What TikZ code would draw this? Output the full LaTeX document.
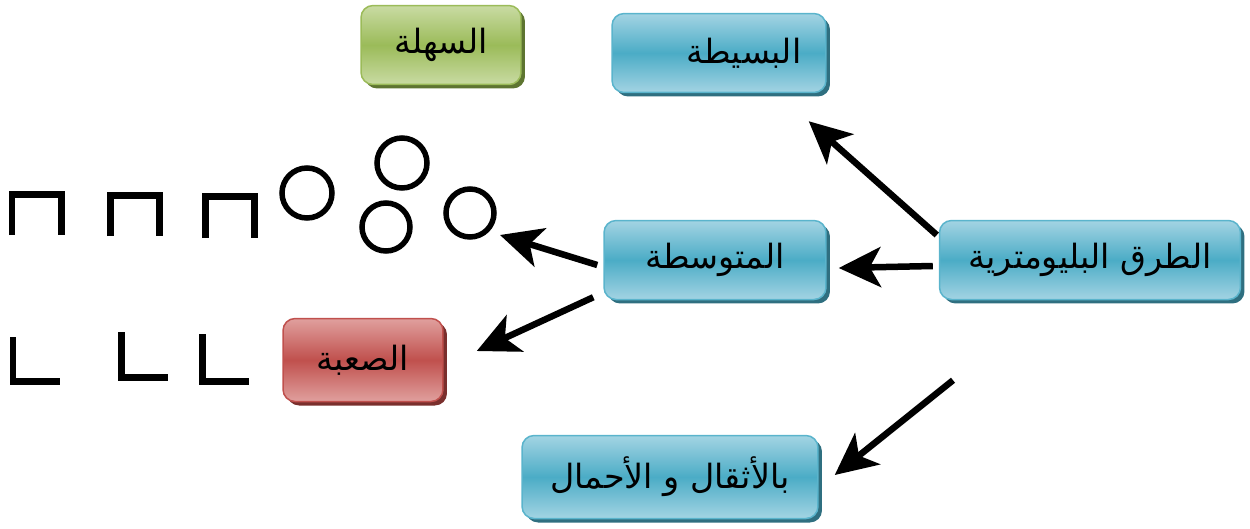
\documentclass[tikz,border=0pt]{standalone}
\usepackage{fontspec}
\usepackage{tikz}
\usetikzlibrary{shadows}
\usetikzlibrary{calc, arrows.meta}
\newfontfamily\arabicfont[Script=Arabic]{DejaVu Sans}
\TeXXeTstate=1
\newcommand{\px}{0.02cm}
\newcommand{\arText}[1]{\arabicfont\beginR #1\endR}
\definecolor{blueLight}{HTML}{A3D4E3}
\definecolor{blueMid}{HTML}{4BACC6}
\definecolor{blueEdge}{HTML}{5AB4CC}
\definecolor{blueShadow}{HTML}{2F6F80}
\definecolor{greenLight}{HTML}{C9DBA3}
\definecolor{greenMid}{HTML}{9BBB59}
\definecolor{greenEdge}{HTML}{9BBB59}
\definecolor{greenShadow}{HTML}{5E7531}
\definecolor{redLight}{HTML}{E0A09E}
\definecolor{redMid}{HTML}{C0504D}
\definecolor{redEdge}{HTML}{C0504D}
\definecolor{redShadow}{HTML}{7A2F2D}

\begin{document}
\begin{tikzpicture}[x=\px,y=-\px,
  box/.style={rounded corners=0.24cm,minimum height=1.58cm,inner sep=0pt,line width=0.03cm,
    font=\fontsize{19}{22}\selectfont},
  blueBox/.style={box,draw=blueEdge,top color=blueLight,bottom color=blueLight,middle color=blueMid,
    drop shadow={shadow xshift=0.08cm,shadow yshift=-0.08cm,fill=blueShadow,opacity=1}},
  greenBox/.style={box,draw=greenEdge,top color=greenLight,bottom color=greenLight,middle color=greenMid,
    drop shadow={shadow xshift=0.08cm,shadow yshift=-0.08cm,fill=greenShadow,opacity=1}},
  redBox/.style={box,draw=redEdge,top color=redLight,bottom color=redLight,middle color=redMid,
    drop shadow={shadow xshift=0.08cm,shadow yshift=-0.08cm,fill=redShadow,opacity=1}},
  arr/.style={line width=0.13cm,-{Stealth[length=0.84cm,width=0.8cm,inset=0.22cm]}},
  glyph/.style={line width=0.14cm},
  ring/.style={line width=0.11cm}]
\useasboundingbox (0,0) rectangle (1250,528);
\node[greenBox,minimum width=3.2cm] (easy) at (441,45) {\arText{السهلة}};
\node[blueBox,minimum width=4.28cm] (simple) at (719,53) {\hspace*{1cm}\arText{البسيطة}};
\node[blueBox,minimum width=4.44cm] (medium) at (715,260) {\arText{المتوسطة}};
\node[blueBox,minimum width=6.02cm] (plyo) at (1090,260) {\arText{الطرق البليومترية}};
\node[redBox,minimum width=3.2cm,minimum height=1.66cm] (hard) at (363,360) {\arText{الصعبة}};
\node[blueBox,minimum width=5.92cm,minimum height=1.66cm] (weights) at (670,477) {\arText{بالأثقال و الأحمال}};
\coordinate (ringTip) at (500,235);
\foreach \x/\t/\b in {12/194/235,110/195/236,205/196/238}
  \draw[glyph] (\x,\b) -- (\x,\t) -- (\x+49,\t) -- (\x+49,\b);
\foreach \x/\t/\b in {13/337/381,121/332/377,202/334/381}
  \draw[glyph] (\x,\t) -- (\x,\b) -- (\x+47,\b);
\foreach \x/\y/\r in {307/193/25,402/163/25,386/227/24,470/213/24}
  \draw[ring] (\x,\y) circle (\r);
\draw[arr] ($(plyo.west)+(-2,-25)$) -- ($(simple.south east)+(-18,28)$);
\draw[arr] ($(plyo.west)+(-6,6)$) -- ($(medium.east)+(12,8)$);
\draw[arr] ($(medium.west)+(-6,5)$) -- (ringTip);
\draw[arr] ($(medium.south west)+(-10,-3)$) -- ($(hard.east)+(33,-9)$);
\draw[arr] ($(plyo.south)+(-137,80)$) -- ($(weights.east)+(16,-2)$);
\end{tikzpicture}
\end{document}
